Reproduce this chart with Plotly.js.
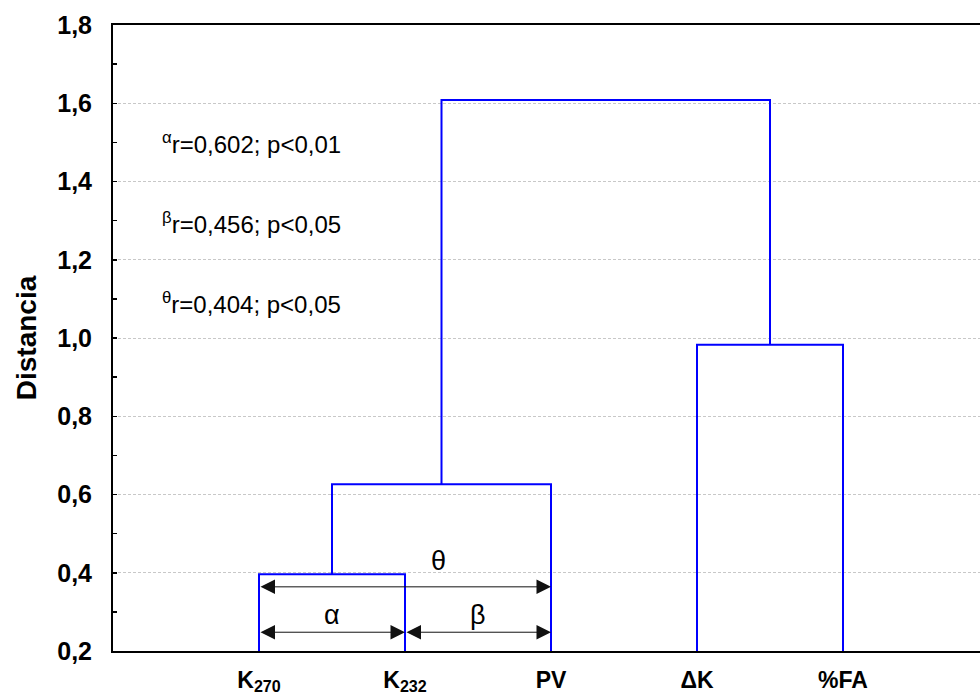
<!DOCTYPE html>
<html>
<head>
<meta charset="utf-8">
<script src="https://cdn.plot.ly/plotly-3.0.1.min.js"></script>
<style>html,body{margin:0;padding:0;background:#fff;}#chart{width:980px;height:697px;}</style>
</head>
<body>
<div id="chart"></div>
<script>
// Leaves of the dendrogram (in display order)
const leafLabels = ['K<sub>270</sub>', 'K<sub>232</sub>', 'PV', '\u0394K', '%FA'];
// Merges (scipy-style indices: 0-4 leaves, 5+ previously formed clusters)
const mergeA = [0, 5, 3, 6];
const mergeB = [1, 2, 4, 7];
const mergeHeight = [0.396, 0.626, 0.983, 1.608];
// Correlation notes
const corrSymbol = ['\u03b1', '\u03b2', '\u03b8'];
const corrR = ['0,602', '0,456', '0,404'];
const corrP = ['0,01', '0,05', '0,05'];
// Arrow spans between leaves (indices) for alpha, beta, theta
const spanFrom = [0, 1, 0];
const spanTo = [1, 2, 2];
const yTicks = [0.2, 0.4, 0.6, 0.8, 1.0, 1.2, 1.4, 1.6, 1.8];

const FONT = 'Arial, "Liberation Sans", sans-serif';
const nLeaves = leafLabels.length;
const xs = [], hs = [];
for (let i = 0; i < nLeaves; i++) { xs.push(i + 1); hs.push(0); }
const lx = [], ly = [];
for (let k = 0; k < mergeA.length; k++) {
  const a = mergeA[k], b = mergeB[k], h = mergeHeight[k];
  lx.push(xs[a], xs[a], xs[b], xs[b], null);
  ly.push(hs[a], h, h, hs[b], null);
  xs.push((xs[a] + xs[b]) / 2);
  hs.push(h);
}

const traces = [{
  type: 'scatter', mode: 'lines', x: lx, y: ly,
  line: {color: '#0000ff', width: 2}, hoverinfo: 'skip', showlegend: false
}];

const annotations = [];
const arrowY = [0.248, 0.248, 0.364];
const labelY = [0.292, 0.292, 0.43];
const labelX = [null, null, 2.23];
for (let i = 0; i < spanFrom.length; i++) {
  const x0 = spanFrom[i] + 1, x1 = spanTo[i] + 1;
  annotations.push({
    x: x1, y: arrowY[i], ax: x0, ay: arrowY[i], xref: 'x', yref: 'y', axref: 'x', ayref: 'y',
    text: '', showarrow: true, arrowside: 'end+start', arrowhead: 2, startarrowhead: 2,
    arrowsize: 2.9, startarrowsize: 2.9, arrowwidth: 1, arrowcolor: '#111'
  });
  annotations.push({
    x: labelX[i] !== null ? labelX[i] : (x0 + x1) / 2, y: labelY[i], xref: 'x', yref: 'y',
    text: corrSymbol[i], showarrow: false, font: {family: FONT, size: 27, color: '#000'}
  });
}
const noteY = [1.498, 1.294, 1.089];
for (let i = 0; i < corrSymbol.length; i++) {
  annotations.push({
    x: 0.32, y: noteY[i], xref: 'x', yref: 'y', xanchor: 'left', yanchor: 'middle',
    text: '<sup>' + corrSymbol[i] + '</sup>r=' + corrR[i] + '; p<' + corrP[i],
    showarrow: false, font: {family: FONT, size: 24, color: '#000'}
  });
}

const layout = {
  width: 980, height: 697,
  margin: {l: 113, r: 0, t: 25, b: 46},
  paper_bgcolor: '#fff', plot_bgcolor: '#fff',
  separators: ',.',
  showlegend: false,
  xaxis: {
    range: [0, 867 / 146], tickmode: 'array',
    tickvals: leafLabels.map((_, i) => i + 1), ticktext: leafLabels,
    showgrid: false, zeroline: false, showline: true, linecolor: '#000', linewidth: 2,
    mirror: true, ticks: '', ticklabelstandoff: 7,
    tickfont: {family: FONT, size: 23, color: '#000', weight: 'bold'}
  },
  yaxis: {
    range: [0.2, 1.8], tickmode: 'array', tickvals: yTicks, tickformat: '.1f',
    showgrid: true, gridcolor: '#c8c8c8', griddash: '3px,2px', gridwidth: 1,
    zeroline: false, showline: true, linecolor: '#000', linewidth: 2,
    ticks: 'inside', ticklen: 4, tickcolor: '#000', tickwidth: 1.5,
    minor: {dtick: 0.1, ticks: 'inside', ticklen: 4, tickcolor: '#000', tickwidth: 1.5, showgrid: false},
    ticklabelstandoff: 14,
    tickfont: {family: FONT, size: 25, color: '#000', weight: 'bold'},
    title: {text: 'Distancia', standoff: 12, font: {family: FONT, size: 28, color: '#000', weight: 'bold'}}
  },
  annotations: annotations
};

Plotly.newPlot('chart', traces, layout, {staticPlot: true, displayModeBar: false});
</script>
</body>
</html>
